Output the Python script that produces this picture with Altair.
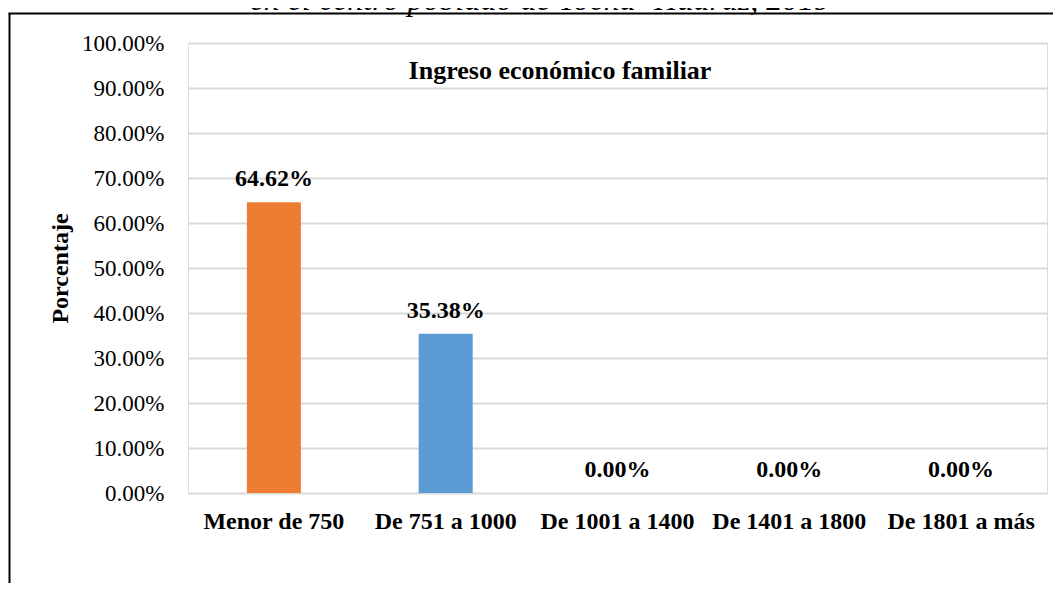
import altair as alt
import pandas as pd

categories = ["Menor de 750", "De 751 a 1000", "De 1001 a 1400", "De 1401 a 1800", "De 1801 a más"]
values = [0.6462, 0.3538, 0.0, 0.0, 0.0]
bar_colors = ["#ED7D31", "#5B9BD5", "#A5A5A5", "#FFC000", "#4472C4"]
y_ticks = [0.0, 0.1, 0.2, 0.3, 0.4, 0.5, 0.6, 0.7, 0.8, 0.9, 1.0]
chart_title = "Ingreso económico familiar"
caption_text = "en el centro poblado de Tocna -Huaraz, 2019"
y_title = "Porcentaje"

FONT = "Liberation Serif"
PAD_L, PAD_T = 180, 35
W, H = 859, 450

df = pd.DataFrame({"cat": categories, "value": values})

x_enc = alt.X(
    "cat:N",
    sort=categories,
    scale=alt.Scale(paddingInner=0, paddingOuter=0),
    axis=alt.Axis(
        title=None, labelAngle=0, labelFont=FONT, labelFontSize=24,
        labelFontWeight="bold", labelColor="#000000", labelPadding=16,
        ticks=False, domain=False, grid=False,
    ),
)
y_enc = alt.Y(
    "value:Q",
    scale=alt.Scale(domain=[0, 1]),
    axis=alt.Axis(
        values=y_ticks, format=".2%", title=y_title,
        labelFont=FONT, labelFontSize=23, labelColor="#000000",
        labelPadding=24, ticks=False, domain=False,
        grid=True, gridColor="#D9D9D9", gridWidth=2,
        titleFont=FONT, titleFontSize=24, titleFontWeight="bold",
        titleColor="#000000", titleAngle=-90, titleBaseline="alphabetic",
        titleAlign="center", titleX=-121, titleY=225,
    ),
)

bars = alt.Chart(df).mark_bar(width=54).encode(
    x=x_enc,
    y=y_enc,
    color=alt.Color("cat:N", sort=categories,
                    scale=alt.Scale(domain=categories, range=bar_colors), legend=None),
)

labels = alt.Chart(df).mark_text(
    font=FONT, fontSize=24, fontWeight="bold", color="#000000",
    baseline="alphabetic", dy=-16,
).encode(
    x=alt.X("cat:N", sort=categories),
    y="value:Q",
    text=alt.Text("value:Q", format=".2%"),
)

title_df = pd.DataFrame({"t": [chart_title]})
title_layer = alt.Chart(title_df).mark_text(
    font=FONT, fontSize=26, fontWeight="bold", color="#000000",
    baseline="alphabetic", align="center",
).encode(x=alt.value(372), y=alt.value(36), text="t:N")

cap_df = pd.DataFrame({"t": [caption_text]})
caption_layer = alt.Chart(cap_df).mark_text(
    font=FONT, fontSize=32, fontStyle="italic", color="#000000",
    baseline="alphabetic", align="center",
).encode(x=alt.value(352), y=alt.value(2 - PAD_T), text="t:N")

frame_df = pd.DataFrame({"k": [0]})
frame_left = alt.Chart(frame_df).mark_rule(color="#000000", strokeWidth=2).encode(
    x=alt.value(1.5 - PAD_L), y=alt.value(5.5 - PAD_T), y2=alt.value(700)
)
frame_top = alt.Chart(frame_df).mark_rule(color="#000000", strokeWidth=2).encode(
    x=alt.value(0.5 - PAD_L), x2=alt.value(1100), y=alt.value(5.5 - PAD_T)
)

chart = alt.layer(bars, labels, title_layer, caption_layer, frame_left, frame_top).properties(
    width=W, height=H,
    autosize=alt.AutoSizeParams(type="none"),
    padding={"left": PAD_L, "top": PAD_T, "right": 6, "bottom": 90},
).configure_view(stroke=None).configure(background="#ffffff")

chart.save("out.html", embed_options={"renderer": "svg", "actions": False})
